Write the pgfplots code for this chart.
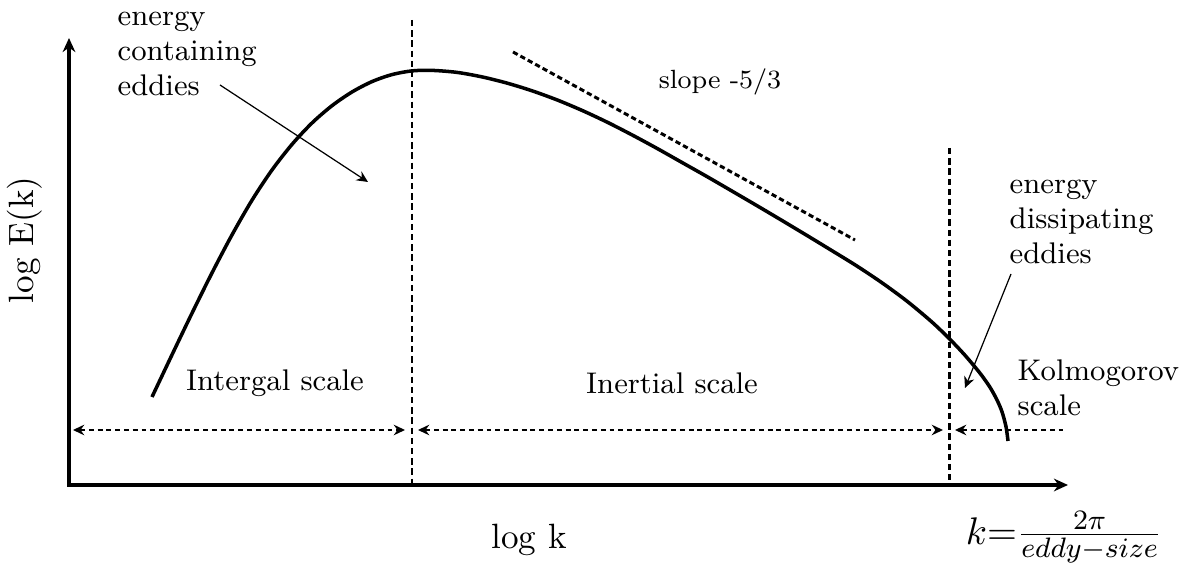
\documentclass[border=0pt]{standalone}
\usepackage{pgfplots}
\usepackage{pgfplotstable}
\pgfplotsset{compat=1.18}
\usetikzlibrary{arrows.meta}

\pgfplotstableread{
x     y
152   397
172   354.8
192   313.2
212   272.9
232   234.9
252   200.2
272   170.0
292   144.4
312   123.0
332   105.7
352   92.0
372   81.6
392   74.6
412   70.9
432   70.4
457   72.4
482   76.9
507   83.1
532   90.8
557   99.9
582   110.4
607   122.1
632   134.9
657   148.4
682   162.5
707   176.6
732   191.1
757   205.7
782   220.5
807   235.5
832   250.7
857   266.1
882   282.8
907   301.2
932   322.1
950   339.4
965   355.3
980   373.2
990   387.3
997   400
1002  411.8
1006  426.6
1008  441
}\spectrum

\begin{document}
\begin{tikzpicture}[
  lbl/.style={font=\fontsize{8.5}{10}\selectfont,align=left,inner sep=0pt},
  hd/.style={line width=0.45pt,dash pattern=on 1.4pt off 1.1pt},
  tip/.style={-{Stealth[length=3.2pt,width=3pt]}}]
\begin{axis}[width=11.83cm,height=5.63cm,scale only axis,hide axis,clip=false,
  xmin=0,xmax=1183,ymin=0,ymax=563,y dir=reverse]
% frame for the bounding box
\addplot[draw=none] coordinates {(0,0)(1183,563)};

% axes
\draw[line width=0.9pt,-{Stealth[length=4pt,width=3.6pt]}] (69,485) -- (69,38);
\draw[line width=0.9pt,-{Stealth[length=4pt,width=3.6pt]}] (67,485) -- (1068,485);

% region separators
\draw[line width=0.85pt,dash pattern=on 1.8pt off 1.1pt] (412,20) -- (412,485);
\draw[line width=0.85pt,dash pattern=on 1.8pt off 1.1pt] (949,148) -- (949,485);

% energy spectrum
\addplot[black,line width=1pt,smooth] table[x=x,y=y] {\spectrum};

% -5/3 reference line
\addplot[black,line width=0.85pt,dash pattern=on 1.5pt off 0.9pt] coordinates {(513,52)(855,240)};

% scale ranges
\draw[hd,{Stealth[length=3.2pt,width=3pt]}-{Stealth[length=3.2pt,width=3pt]}] (73,430) -- (405,430);
\draw[hd,{Stealth[length=3.2pt,width=3pt]}-{Stealth[length=3.2pt,width=3pt]}] (418,430) -- (943,430);
\draw[hd,{Stealth[length=3.2pt,width=3pt]}-] (955,430) -- (1063,430);

% pointers
\draw[line width=0.35pt,tip] (220,85) -- (368,182);
\draw[line width=0.35pt,tip] (1011,274) -- (965,388);

% labels
\node[lbl,anchor=west] at (117,54) {energy\\containing\\eddies};
\node[lbl,anchor=west] at (1009,222) {energy\\dissipating\\eddies};
\node[lbl,anchor=west] at (1017,388) {Kolmogorov\\scale};
\node[lbl] at (275,383) {Intergal scale};
\node[lbl] at (672,383) {Inertial scale};
\node[font=\fontsize{7.5}{9}\selectfont,inner sep=0pt] at (720,82) {slope -5/3};
\node[font=\fontsize{10}{12}\selectfont,rotate=90,inner sep=0pt] at (25,240) {log E(k)};
\node[font=\fontsize{10}{12}\selectfont,inner sep=0pt] at (529,540) {log k};
\node[font=\fontsize{11}{13}\selectfont,inner sep=0pt] at (1064,537) {$k{=}\frac{2\pi}{eddy-size}$};
\end{axis}
\end{tikzpicture}
\end{document}
